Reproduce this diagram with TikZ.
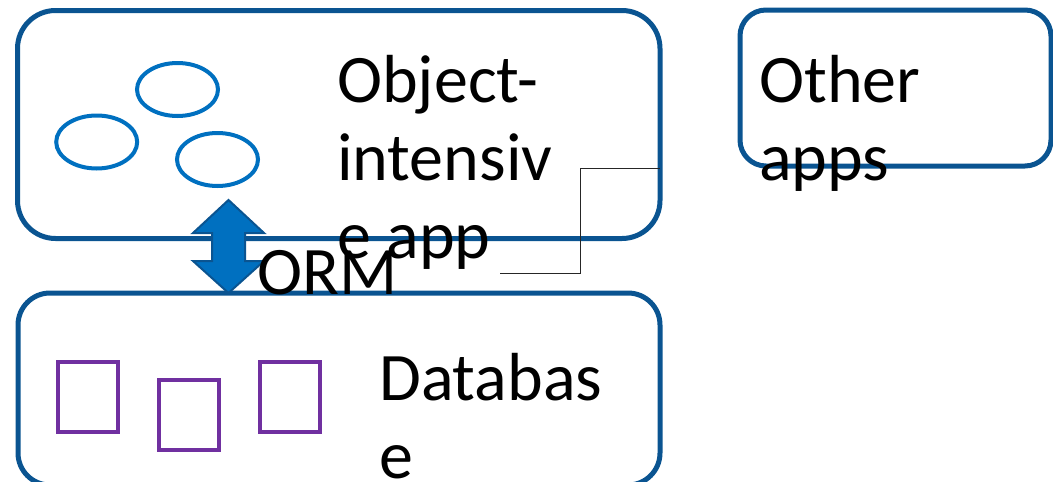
\documentclass[tikz,border=0pt]{standalone}
\usepackage{fontspec}
\setmainfont{Carlito}
\usetikzlibrary{shapes.geometric}
\definecolor{boxblue}{RGB}{10,84,145}
\definecolor{objblue}{RGB}{0,112,192}
\definecolor{sqpurple}{RGB}{112,48,160}
\tikzset{
  box/.style={draw=boxblue, line width=5pt, rectangle, inner sep=0pt},
  obj/.style={draw=objblue, line width=4pt, ellipse, inner sep=0pt, minimum width=81pt, minimum height=53pt},
  rec/.style={draw=sqpurple, line width=4pt, rectangle, inner sep=0pt, minimum width=60pt, minimum height=70pt},
  lbl/.style={anchor=base west, inner sep=0pt, text=black, font=\fontsize{68}{78}\selectfont},
  callout/.style={draw=black!85, line width=1pt},
  dblarrow/.style={fill=objblue, draw=boxblue, line width=2pt, line join=miter}
}
\begin{document}
\begin{tikzpicture}[x=1pt,y=-1pt]
\useasboundingbox (0,0) rectangle (1053,482);
% boxes
\node[box, rounded corners=38pt, minimum width=642.5pt, minimum height=228pt] (app) at (338.75,124.5) {};
\node[box, rounded corners=26pt, minimum width=311pt, minimum height=156pt] (other) at (895.5,88) {};
\node[box, rounded corners=32pt, minimum width=642pt, minimum height=192pt] (db) at (339,389) {};
% objects
\node[obj] (o1) at (177.5,89.5) {};
\node[obj] (o2) at (96.7,142) {};
\node[obj] (o3) at (217.5,159.5) {};
% tables
\node[rec] (t1) at (87.5,397) {};
\node[rec] (t2) at (188.5,414.5) {};
\node[rec] (t3) at (289.5,397) {};
% double arrow
\draw[dblarrow] (228.5,200) -- (264,233) -- (245,233) -- (245,261) -- (264,261)
  -- (228.5,293) -- (193,261) -- (212,261) -- (212,233) -- (193,233) -- cycle;
% callout line
\coordinate (cstart) at (500,273);
\coordinate (cend) at (660,168);
\draw[callout] (cstart) -- ++(80,0) |- (cend);
% texts
\node[lbl] (appl1) at (337,102) {Object-};
\node[lbl] (appl2) at (337,180) {intensiv};
\node[lbl] (appl3) at (337,258) {e app};
\node[lbl] (oth1) at (759,102) {Other};
\node[lbl] (oth2) at (759,180) {apps};
\node[lbl] (orm) at (257,294) {ORM};
\node[lbl] (dbl1) at (379,400) {Databas};
\node[lbl] (dbl2) at (379,478) {e};
\end{tikzpicture}
\end{document}
